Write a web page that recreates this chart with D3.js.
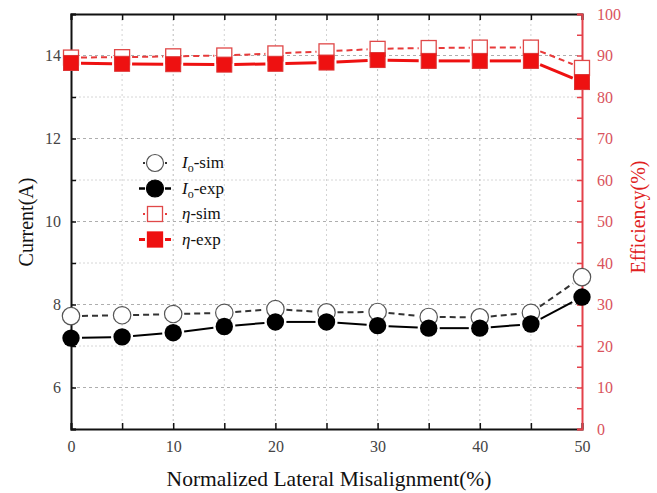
<!DOCTYPE html>
<html>
<head>
<meta charset="utf-8">
<script src="https://cdn.jsdelivr.net/npm/d3@7"></script>
<style>
  body { margin: 0; background: #fff; }
  text { font-family: "Liberation Serif", "Times New Roman", serif; }
</style>
</head>
<body>
<svg id="chart" width="657" height="493"></svg>
<script>
// data
var misalign = [0, 5, 10, 15, 20, 25, 30, 35, 40, 45, 50];
var ioSim  = [7.72, 7.74, 7.77, 7.80, 7.89, 7.81, 7.82, 7.70, 7.69, 7.80, 8.66];
var ioExp  = [7.19, 7.22, 7.32, 7.47, 7.58, 7.58, 7.49, 7.43, 7.43, 7.53, 8.18];
var etaSim = [89.5, 89.6, 89.8, 90.0, 90.5, 91.0, 91.6, 91.8, 91.9, 91.9, 87.0];
var etaExp = [88.2, 88.0, 87.9, 87.8, 88.0, 88.3, 88.9, 88.7, 88.7, 88.7, 83.6];
var xTicks = [0, 10, 20, 30, 40, 50];
var leftTicks = [6, 8, 10, 12, 14];
var rightTicks = [0, 10, 20, 30, 40, 50, 60, 70, 80, 90, 100];

var svg = d3.select("#chart");
var pLeft = 71, pRight = 582, pTop = 14, pBottom = 429;
var red = "#ee1111", redAxis = "#e4414a";

var x = d3.scaleLinear().domain([0, 50]).range([pLeft, pRight]);
var yL = d3.scaleLinear().domain([5, 15]).range([pBottom, pTop]);
var yR = d3.scaleLinear().domain([0, 100]).range([pBottom, pTop]);

// grid
var grid = svg.append("g");
grid.selectAll(".vg").data(d3.range(5, 50, 5)).enter().append("line")
  .attr("x1", function(d) { return x(d); }).attr("x2", function(d) { return x(d); })
  .attr("y1", pTop).attr("y2", pBottom)
  .attr("stroke", function(d) { return d % 10 ? "#c8c8c8" : "#aaa"; })
  .attr("stroke-width", 0.8).attr("stroke-dasharray", "2,3");
grid.selectAll(".hg").data(leftTicks).enter().append("line")
  .attr("x1", pLeft).attr("x2", pRight)
  .attr("y1", function(d) { return yL(d); }).attr("y2", function(d) { return yL(d); })
  .attr("stroke", "#999").attr("stroke-width", 0.8).attr("stroke-dasharray", "3,3");
grid.selectAll(".hg2").data([20, 40, 60, 80]).enter().append("line")
  .attr("x1", pLeft).attr("x2", pRight)
  .attr("y1", function(d) { return yR(d); }).attr("y2", function(d) { return yR(d); })
  .attr("stroke", "#ccc").attr("stroke-width", 0.8).attr("stroke-dasharray", "2,2");

// axes
var gB = svg.append("g").attr("transform", "translate(0," + pBottom + ")")
  .call(d3.axisBottom(x).tickValues(d3.range(0, 55, 5)).tickSize(-6).tickPadding(12)
    .tickFormat(function(d) { return xTicks.indexOf(d) >= 0 ? d : ""; }));
var gT = svg.append("g").attr("transform", "translate(0," + pTop + ")")
  .call(d3.axisTop(x).tickValues(d3.range(0, 55, 5)).tickSize(-6).tickFormat(""));
var gL = svg.append("g").attr("transform", "translate(" + pLeft + ",0)")
  .call(d3.axisLeft(yL).tickValues(d3.range(5, 16, 1)).tickSize(-5).tickPadding(10)
    .tickFormat(function(d) { return leftTicks.indexOf(d) >= 0 ? d : ""; }));
var gR = svg.append("g").attr("transform", "translate(" + pRight + ",0)")
  .call(d3.axisRight(yR).tickValues(d3.range(0, 105, 5)).tickSize(-5).tickPadding(15)
    .tickFormat(function(d) { return rightTicks.indexOf(d) >= 0 ? d : ""; }));

[gB, gT, gL].forEach(function(g) {
  g.select(".domain").attr("stroke", "#111").attr("stroke-width", 2);
  g.selectAll(".tick line").attr("stroke", "#111").attr("stroke-width", 1.5);
  g.selectAll("text").attr("fill", "#444").style("font-size", "16px")
    .style("font-family", "Liberation Serif, serif");
});
gR.select(".domain").attr("stroke", redAxis).attr("stroke-width", 2);
gR.selectAll(".tick line").attr("stroke", redAxis).attr("stroke-width", 1.5);
gR.selectAll("text").attr("fill", "#d9535c").style("font-size", "16px")
  .style("font-family", "Liberation Serif, serif");

// lines with small gaps around the markers, as in the original
function drawSeries(vals, y, color, width, dash, gap) {
  var pts = vals.map(function(d, i) { return [x(misalign[i]), y(d)]; });
  var segs = d3.pairs(pts).map(function(p) {
    var dx = p[1][0] - p[0][0], dy = p[1][1] - p[0][1];
    var len = Math.sqrt(dx * dx + dy * dy), ux = dx / len, uy = dy / len;
    return [[p[0][0] + ux * gap, p[0][1] + uy * gap], [p[1][0] - ux * gap, p[1][1] - uy * gap]];
  });
  svg.append("g").selectAll("line").data(segs).enter().append("line")
    .attr("x1", function(s) { return s[0][0]; }).attr("y1", function(s) { return s[0][1]; })
    .attr("x2", function(s) { return s[1][0]; }).attr("y2", function(s) { return s[1][1]; })
    .attr("stroke", color).attr("stroke-width", width).attr("stroke-dasharray", dash);
}
drawSeries(etaSim, yR, "#e83a3a", 2, "6,4", 10);
drawSeries(etaExp, yR, red, 3, null, 10);
drawSeries(ioSim, yL, "#333", 2, "6,4", 11);
drawSeries(ioExp, yL, "#000", 2, null, 11);

var sq = 15;
svg.selectAll(".esim").data(etaSim).enter().append("rect")
  .attr("x", function(d, i) { return x(misalign[i]) - sq / 2; })
  .attr("y", function(d) { return yR(d) - sq / 2; })
  .attr("width", sq).attr("height", sq)
  .attr("fill", "#fff").attr("stroke", "#e04848").attr("stroke-width", 1.3);
svg.selectAll(".eexp").data(etaExp).enter().append("rect")
  .attr("x", function(d, i) { return x(misalign[i]) - sq / 2; })
  .attr("y", function(d) { return yR(d) - sq / 2; })
  .attr("width", sq).attr("height", sq)
  .attr("fill", red).attr("stroke", "#dd3333").attr("stroke-width", 1);
svg.selectAll(".isim").data(ioSim).enter().append("circle")
  .attr("cx", function(d, i) { return x(misalign[i]); })
  .attr("cy", function(d) { return yL(d); })
  .attr("r", 8.7).attr("fill", "#fff").attr("stroke", "#555").attr("stroke-width", 1.2);
svg.selectAll(".iexp").data(ioExp).enter().append("circle")
  .attr("cx", function(d, i) { return x(misalign[i]); })
  .attr("cy", function(d) { return yL(d); })
  .attr("r", 8.7).attr("fill", "#000");

// legend
var legend = [
  { sym: "circle", fill: "#fff", stroke: "#555", line: "#333", w: 2, italic: "I", sub: "o", rest: "-sim" },
  { sym: "circle", fill: "#000", stroke: "#000", line: "#000", w: 2.5, italic: "I", sub: "o", rest: "-exp" },
  { sym: "rect", fill: "#fff", stroke: "#e04848", line: "#e83a3a", w: 2, italic: "η", sub: "", rest: "-sim" },
  { sym: "rect", fill: red, stroke: red, line: red, w: 3, italic: "η", sub: "", rest: "-exp" }
];
var lg = svg.append("g");
legend.forEach(function(d, i) {
  var cy = 163 + i * 25.5, cx = 155;
  var half = (i === 0 || i === 2) ? 3 : 7;
  lg.append("line").attr("x1", 139 + (7 - half)).attr("x2", 145).attr("y1", cy).attr("y2", cy)
    .attr("stroke", d.line).attr("stroke-width", d.w);
  lg.append("line").attr("x1", 165).attr("x2", 171 - (7 - half)).attr("y1", cy).attr("y2", cy)
    .attr("stroke", d.line).attr("stroke-width", d.w);
  if (d.sym === "circle") {
    lg.append("circle").attr("cx", cx).attr("cy", cy).attr("r", 8.5)
      .attr("fill", d.fill).attr("stroke", d.stroke).attr("stroke-width", 1.2);
  } else {
    lg.append("rect").attr("x", cx - 7.5).attr("y", cy - 7.5).attr("width", 15).attr("height", 15)
      .attr("fill", d.fill).attr("stroke", d.stroke).attr("stroke-width", 1.3);
  }
  var t = lg.append("text").attr("x", 182).attr("y", cy + 5).style("font-size", "17px").attr("fill", "#111");
  t.append("tspan").style("font-style", "italic").text(d.italic);
  if (d.sub) t.append("tspan").attr("dy", 4).style("font-size", "12px").text(d.sub);
  t.append("tspan").attr("dy", d.sub ? -4 : 0).text(d.rest);
});

// axis titles
svg.append("text").attr("transform", "translate(33,222) rotate(-90)")
  .attr("text-anchor", "middle").style("font-size", "20px").attr("fill", "#111").text("Current(A)");
svg.append("text").attr("transform", "translate(645,217) rotate(-90)")
  .attr("text-anchor", "middle").style("font-size", "20px").attr("fill", "#e02020").text("Efficiency(%)");
svg.append("text").attr("x", 329).attr("y", 486)
  .attr("text-anchor", "middle").style("font-size", "21.5px").attr("fill", "#111")
  .text("Normalized Lateral Misalignment(%)");
</script>
</body>
</html>
